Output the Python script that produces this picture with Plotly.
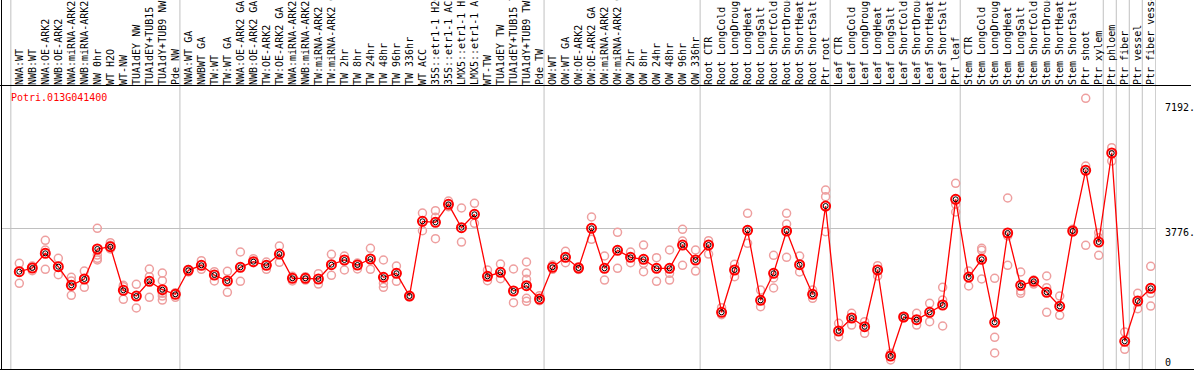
import plotly.graph_objects as go

labels = [
    "NWA:WT", "NWB:WT", "NWA:OE-ARK2", "NWB:OE-ARK2", "NWA:miRNA-ARK2", "NWB:miRNA-ARK2",
    "NW 0hr", "WT H2O", "WT-NW", "TUA1dEY NW", "TUA1dEY+TUB15 NW", "TUA1dY+TUB9 NW", "Pde NW",
    "NWA:WT GA", "NWBWT GA", "TW:WT", "TW:WT GA", "NWA:OE-ARK2 GA", "NWB:OE-ARK2 GA",
    "TW:OE-ARK2", "TW:OE-ARK2 GA", "NWA:miRNA-ARK2 GA", "NWB:miRNA-ARK2 GA", "TW:miRNA-ARK2",
    "TW:miRNA-ARK2 GA", "TW 2hr", "TW 8hr", "TW 24hr", "TW 48hr", "TW 96hr", "TW 336hr",
    "WT ACC", "35S::etr1-1 H2O", "35S::etr1-1 ACC", "LMX5::etr1-1 H2O", "LMX5::etr1-1 ACC",
    "WT-TW", "TUA1dEY TW", "TUA1dEY+TUB15 TW", "TUA1dY+TUB9 TW", "Pde TW",
    "OW:WT", "OW:WT GA", "OW:OE-ARK2", "OW:OE-ARK2 GA", "OW:miRNA-ARK2", "OW:miRNA-ARK2 GA",
    "OW 2hr", "OW 8hr", "OW 24hr", "OW 48hr", "OW 96hr", "OW 336hr",
    "Root CTR", "Root LongCold", "Root LongDrought", "Root LongHeat", "Root LongSalt",
    "Root ShortCold", "Root ShortDrought", "Root ShortHeat", "Root ShortSalt", "Ptr root",
    "Leaf CTR", "Leaf LongCold", "Leaf LongDrought", "Leaf LongHeat", "Leaf LongSalt",
    "Leaf ShortCold", "Leaf ShortDrought", "Leaf ShortHeat", "Leaf ShortSalt", "Ptr leaf",
    "Stem CTR", "Stem LongCold", "Stem LongDrought", "Stem LongHeat", "Stem LongSalt",
    "Stem ShortCold", "Stem ShortDrought", "Stem ShortHeat", "Stem ShortSalt",
    "Ptr shoot", "Ptr xylem", "Ptr phloem", "Ptr fiber", "Ptr vessel", "Ptr fiber vessel",
]

means = [
    2556, 2661, 3077, 2698, 2171, 2350, 3199, 3264, 2030, 1868, 2285, 2047, 1917,
    2596, 2738, 2463, 2293, 2681, 2840, 2738, 3057, 2370, 2370, 2350, 2755, 2888, 2746,
    2916, 2398, 2511, 1868, 3983, 3955, 4464, 3802, 4181, 2426, 2539, 2010, 2160, 1784,
    2681, 2964, 2661, 3785, 2653, 3162, 2964, 2907, 2653, 2653, 3312, 2888,
    3312, 1407, 2605, 3728, 1747, 2511, 3709, 2755, 1917, 4416,
    878, 1246, 999, 2605, 170, 1274, 1197, 1407, 1614, 4606,
    2406, 2907, 1124, 3652, 2171, 2285, 1973, 1577, 3709,
    5427, 3397, 5917, 586, 1727, 2086,
]

replicates = [
    [2794, 2228], [2718, 2585], [3445, 3171, 2624], [2936, 2471], [2398, 2293, 1888],
    [2576, 2115], [3785, 3029, 2936, 2888], [3377, 3304, 3199], [2171, 2132, 1775],
    [2200, 1529], [2633, 2415, 1832], [2520, 2302, 1945, 1868, 1755], [1962, 1832],
    [2620, 2550], [2868, 2624], [2556, 2293], [2568, 1973], [3114, 2285], [2924, 2811],
    [2831, 2624], [3284, 2822], [2426, 2293], [2415, 2321], [2500, 2208], [3049, 2454],
    [3001, 2605], [2803, 2633], [3219, 2624], [2888, 2228, 2115], [2718, 2285],
    [1880, 1850], [4218, 3717], [4283, 4096, 3491], [4558, 4397], [4360, 3397],
    [4493, 3927], [2605, 2302], [2774, 2358], [2633, 1679],
    [2831, 2520, 2341, 1803, 1718], [1877, 1735],
    [2746, 2624], [3134, 2811], [2700, 2620], [4105, 3474], [3001, 2321], [3672, 2653],
    [3114, 2811], [3312, 2794, 2556], [2953, 2285], [3171, 2511, 2321],
    [3757, 3426, 2738], [3171, 2576],
    [3434, 3057], [1537, 1339], [2766, 2415], [4210, 3360], [2038, 1566],
    [3021, 2378, 2095], [4210, 3907, 2964], [3001, 2548], [2038, 1803],
    [4869, 4680, 3689],
    [1096, 716], [1379, 1047], [1141, 812], [2726, 2435], [246, 57], [1290, 1250],
    [1379, 1047], [1662, 1141], [2115, 1755, 1019], [5059, 4464, 4247],
    [2576, 2152], [3219, 3162, 2350], [2370, 699, 255], [4643, 3567, 2738],
    [2548, 2010, 1945], [2321, 2208], [2435, 2103, 1407], [1868, 1322], [3757, 3680],
    [7465, 5549, 3304], [3660, 3519, 3021], [6067, 5690], [849, 360], [1945, 1509],
    [2709, 1945, 1585],
]

group_starts = [0, 13, 41, 53, 63, 73, 84, 85, 86, 87]
gene = "Potri.013G041400"
y_labels = ["7192.", "3776.", "0"]
y_label_vals = [7192, 3776, 0]

W, H = 1194, 370
ML, MR, MT, MB = 1, 38, 86, 1
PW, PH = W - ML - MR, H - MT - MB
x_lo = -1.407
x_hi = x_lo + PW / 13.005
y_lo, y_hi = -198, 7814

FONT = "DejaVu Sans Mono"

rep_x, rep_y = [], []
for i, reps in enumerate(replicates):
    for v in reps:
        rep_x.append(i)
        rep_y.append(v)

xs = list(range(len(labels)))

fig = go.Figure()
fig.add_trace(go.Scatter(
    x=rep_x, y=rep_y, mode="markers",
    marker=dict(symbol="circle-open", size=8, color="#ee9f9f", line=dict(width=1.5, color="#ee9f9f")),
    hoverinfo="skip", showlegend=False,
))
fig.add_trace(go.Scatter(
    x=xs, y=means, mode="lines+markers",
    line=dict(color="#ff0000", width=1.3),
    marker=dict(symbol="circle-open", size=9, color="#ff0000", line=dict(width=2, color="#ff0000")),
    showlegend=False,
))
fig.add_trace(go.Scatter(
    x=xs, y=means, mode="markers",
    marker=dict(symbol="circle-open", size=5, color="#000000", line=dict(width=1, color="#000000")),
    hoverinfo="skip", showlegend=False,
))

shapes = []
top_paper = 1 + MT / PH
for g in group_starts:
    shapes.append(dict(type="line", xref="x", yref="paper", x0=g - 0.65, x1=g - 0.65,
                       y0=0, y1=top_paper, line=dict(color="#c0c0c0", width=1), layer="below"))
shapes.append(dict(type="line", xref="x", yref="paper", x0=x_hi - 0.02, x1=x_hi - 0.02,
                   y0=0, y1=top_paper, line=dict(color="#c0c0c0", width=1), layer="below"))


def px_x(p):
    return (p - ML) / PW


def px_y(p):
    return (H - MB - p) / PH


shapes.append(dict(type="line", xref="paper", yref="paper", x0=px_x(0), x1=px_x(1191),
                   y0=px_y(85.5), y1=px_y(85.5), line=dict(color="black", width=1)))
shapes.append(dict(type="line", xref="paper", yref="paper", x0=px_x(0), x1=px_x(1194),
                   y0=px_y(369.5), y1=px_y(369.5), line=dict(color="black", width=1)))
shapes.append(dict(type="line", xref="paper", yref="paper", x0=px_x(1.5), x1=px_x(1.5),
                   y0=px_y(370), y1=px_y(0), line=dict(color="black", width=1)))

annotations = [dict(
    xref="paper", yref="paper", x=px_x(9), y=px_y(97.5), xanchor="left", yanchor="middle",
    text=gene, showarrow=False, font=dict(family=FONT, size=10, color="#ff0000"),
)]
for txt, v in zip(y_labels, y_label_vals):
    annotations.append(dict(
        xref="paper", yref="y", x=px_x(1163), y=v, xanchor="left", yanchor="middle",
        text=txt, showarrow=False, font=dict(family=FONT, size=10, color="black"),
        yshift=-4 if v == 3776 else 0,
    ))

fig.update_layout(
    width=W, height=H,
    margin=dict(l=ML, r=MR, t=MT, b=MB, pad=0),
    paper_bgcolor="white", plot_bgcolor="white",
    showlegend=False,
    shapes=shapes, annotations=annotations,
    xaxis=dict(
        range=[x_lo, x_hi], side="top", tickmode="array", tickvals=xs, ticktext=labels,
        tickangle=-90, ticks="", showgrid=False, zeroline=False, showline=False,
        tickfont=dict(family=FONT, size=10, color="black"), automargin=False,
    ),
    yaxis=dict(
        range=[y_lo, y_hi], tickmode="array", tickvals=[3776], showticklabels=False,
        showgrid=True, gridcolor="#c0c0c0", gridwidth=1, zeroline=False, showline=False,
        ticks="", automargin=False,
    ),
)

fig.write_html(
    "out.html",
    config={"displayModeBar": False},
    post_script="document.body.style.margin='0';document.body.style.padding='0';"
                "document.documentElement.style.overflow='hidden';",
)
